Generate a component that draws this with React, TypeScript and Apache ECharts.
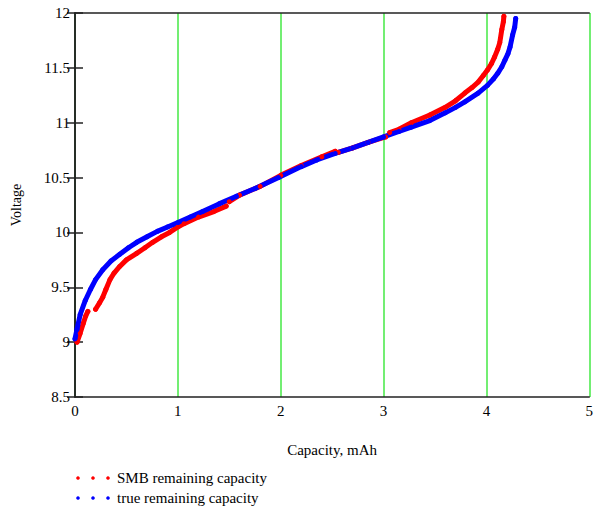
import React, { useEffect, useRef } from "react";
import * as echarts from "echarts";

// true remaining capacity (blue)
const trueCapacity = [0, 0.02, 0.05, 0.1, 0.15, 0.2, 0.27, 0.35, 0.435, 0.52, 0.6, 0.7, 0.8, 0.9, 1.0, 1.12, 1.24, 1.4, 1.57, 1.75, 1.98, 2.2, 2.35, 2.53, 2.7, 2.85, 3.0, 3.15, 3.27, 3.45, 3.6, 3.7, 3.79, 3.92, 4.01, 4.07, 4.11, 4.15, 4.18, 4.21, 4.23, 4.255, 4.275, 4.285];
const trueVoltage = [9.03, 9.12, 9.25, 9.38, 9.48, 9.57, 9.66, 9.74, 9.8, 9.86, 9.91, 9.96, 10.01, 10.05, 10.09, 10.14, 10.19, 10.26, 10.33, 10.4, 10.5, 10.6, 10.66, 10.72, 10.77, 10.82, 10.87, 10.92, 10.96, 11.02, 11.09, 11.14, 11.19, 11.27, 11.34, 11.4, 11.45, 11.51, 11.57, 11.63, 11.69, 11.8, 11.87, 11.95];

// SMB remaining capacity (red); null marks a gap in the recorded points
const smbCapacity = [0.02, 0.05, 0.08, 0.105, 0.125, null, 0.2, 0.24, 0.27, 0.3, 0.34, 0.38, 0.435, 0.5, 0.6, 0.68, 0.755, 0.84, 0.92, 1.0, 1.06, 1.2, 1.35, 1.47, null, 1.5, 1.6, 1.8, 2.0, 2.2, 2.4, 2.53, null, 2.56, 2.7, 2.85, 3.02, null, 3.06, 3.15, 3.27, 3.45, 3.6, 3.7, 3.79, 3.86, 3.92, 3.97, 4.01, 4.05, 4.08, 4.11, 4.13, 4.15, 4.165, 4.17];
const smbVoltage = [9.0, 9.08, 9.17, 9.24, 9.28, null, 9.3, 9.36, 9.41, 9.48, 9.57, 9.63, 9.69, 9.75, 9.81, 9.86, 9.91, 9.96, 10.0, 10.05, 10.08, 10.14, 10.19, 10.24, null, 10.28, 10.34, 10.42, 10.52, 10.61, 10.69, 10.74, null, 10.73, 10.77, 10.82, 10.87, null, 10.91, 10.94, 11.0, 11.07, 11.14, 11.2, 11.27, 11.32, 11.37, 11.43, 11.48, 11.54, 11.6, 11.67, 11.73, 11.85, 11.92, 11.97];

const xTicks = [0, 1, 2, 3, 4, 5];
const yTicks = [8.5, 9, 9.5, 10, 10.5, 11, 11.5, 12];

const seriesNames = ["SMB remaining capacity", "true remaining capacity"];
const seriesColors = ["#ff0000", "#0000ff"];

const FONT = "Liberation Serif";

function toData(xs: (number | null)[], ys: (number | null)[]) {
  return xs.map((x, i) => (x === null || ys[i] === null ? ["-", "-"] : [x, ys[i]]));
}

export default function App() {
  const ref = useRef<HTMLDivElement>(null);
  useEffect(() => {
    document.body.style.margin = "0";
    if (!ref.current) return;
    const chart = echarts.init(ref.current, null, { renderer: "svg" });
    const axisLine = { show: true, lineStyle: { color: "#222", width: 1.5 } };
    const commonY = {
      type: "value" as const,
      min: yTicks[0],
      max: yTicks[yTicks.length - 1],
      interval: 0.5,
      splitLine: { show: false },
      axisLine,
    };
    const lineSeries = (name: string, color: string, data: any[]) => ({
      type: "line",
      name,
      data,
      connectNulls: false,
      symbol: "circle",
      symbolSize: 5,
      showSymbol: true,
      showAllSymbol: true,
      itemStyle: { color },
      lineStyle: { color, width: 5, cap: "round", join: "round" },
      silent: true,
    });
    const legendRow = (i: number, y: number) => ({
      type: "group",
      children: [
        ...[78, 93, 108].map((x) => ({
          type: "circle",
          shape: { cx: x, cy: y, r: 1.8 },
          style: { fill: seriesColors[i] },
        })),
        {
          type: "text",
          x: 117,
          y,
          style: {
            text: seriesNames[i],
            fontFamily: FONT,
            fontSize: 15,
            fill: "#000",
            verticalAlign: "middle",
          },
        },
      ],
    });
    chart.setOption({
      animation: false,
      backgroundColor: "#fff",
      textStyle: { fontFamily: FONT },
      grid: { left: 75, right: 4, top: 13, bottom: 112 },
      xAxis: [
        {
          type: "value",
          min: xTicks[0],
          max: xTicks[xTicks.length - 1],
          interval: 1,
          position: "bottom",
          axisLine,
          axisTick: { show: false },
          axisLabel: { color: "#000", fontFamily: FONT, fontSize: 15, margin: 6 },
          splitLine: { show: true, lineStyle: { color: "#44e844", width: 1.5 } },
          name: "Capacity, mAh",
          nameLocation: "middle",
          nameGap: 45,
          nameTextStyle: { color: "#000", fontFamily: FONT, fontSize: 15 },
        },
        {
          type: "value",
          min: xTicks[0],
          max: xTicks[xTicks.length - 1],
          interval: 1,
          position: "top",
          axisLine,
          axisTick: { show: false },
          axisLabel: { show: false },
          splitLine: { show: false },
        },
      ],
      yAxis: [
        {
          ...commonY,
          position: "left",
          axisTick: { show: true, inside: true, length: 8, lineStyle: { color: "#222", width: 1.5 } },
          axisLabel: { color: "#000", fontFamily: FONT, fontSize: 15, margin: 5 },
          name: "Voltage",
          nameLocation: "middle",
          nameGap: 52,
          nameRotate: 90,
          nameTextStyle: { color: "#000", fontFamily: FONT, fontSize: 14 },
        },
        {
          ...commonY,
          position: "right",
          axisTick: { show: true, inside: true, length: 8, lineStyle: { color: "#222", width: 1.5 } },
          axisLabel: { show: false },
        },
      ],
      series: [
        lineSeries(seriesNames[0], seriesColors[0], toData(smbCapacity, smbVoltage)),
        lineSeries(seriesNames[1], seriesColors[1], toData(trueCapacity, trueVoltage)),
      ],
      graphic: [legendRow(0, 478), legendRow(1, 498)],
    });
    return () => chart.dispose();
  }, []);
  return <div ref={ref} style={{ width: 596, height: 509 }} />;
}
